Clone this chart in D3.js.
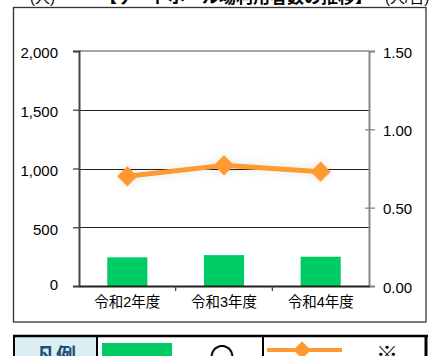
<!DOCTYPE html>
<html><head><meta charset="utf-8">
<script src="https://cdn.jsdelivr.net/npm/d3@7"></script>
<style>
html,body{margin:0;padding:0;background:#fff;overflow:hidden}
svg{display:block}
text{font-family:"Liberation Sans",Arial,"Noto Sans CJK JP",sans-serif}
</style></head>
<body>
<svg id="c" width="441" height="356"></svg>
<script>
const categories = ["令和2年度", "令和3年度", "令和4年度"];
const users = [244, 263, 249];
const ratio = [0.70, 0.77, 0.73];
const leftTicks = [0, 500, 1000, 1500, 2000];
const rightTicks = [0, 0.5, 1.0, 1.5];
const titleLeft = "(人)";
const titleMid = "【ゲートボール場利用者数の推移】";
const titleRight = "(人/日)";
const legendLabel = "凡例";
const legendMark1 = "〇";
const legendMark2 = "※";

const svg = d3.select("#c");
const L = 79, R = 369, T = 51, B = 286;

// clipped title row
svg.append("text").attr("x", 30).attr("y", 3).attr("font-size", 15).attr("fill", "#000").text(titleLeft);
svg.append("text").attr("x", 236).attr("y", 3).attr("text-anchor", "middle").attr("font-size", 17).attr("font-weight", "bold")
  .attr("font-family", "Noto Sans CJK JP").attr("fill", "#000").text(titleMid);
svg.append("text").attr("x", 385).attr("y", 3).attr("font-size", 15).attr("fill", "#000").text(titleRight);

// chart border
svg.append("rect").attr("x", 13.5).attr("y", 7.5).attr("width", 412.5).attr("height", 314.5)
  .attr("fill", "#fff").attr("stroke", "#333").attr("stroke-width", 1.3);

const x = d3.scaleBand().domain(categories).range([L, R]).paddingInner(0.585).paddingOuter(0.2925);
const yL = d3.scaleLinear().domain([0, 2000]).range([B, T]);
const yR = d3.scaleLinear().domain([0, 1.5]).range([B, T]);

// gridlines
svg.append("g").selectAll("line").data(leftTicks.filter(d => d > 0 && d < 2000)).join("line")
  .attr("x1", L).attr("x2", R).attr("y1", d => Math.round(yL(d)) + 0.5).attr("y2", d => Math.round(yL(d)) + 0.5)
  .attr("stroke", "#222").attr("stroke-width", 1);
// top border of plot
svg.append("line").attr("x1", L).attr("x2", R).attr("y1", yL(2000)).attr("y2", yL(2000))
  .attr("stroke", "#888").attr("stroke-width", 1.5);

// bars
svg.append("g").selectAll("rect").data(categories).join("rect")
  .attr("x", d => x(d)).attr("width", x.bandwidth())
  .attr("y", (d, i) => yL(users[i])).attr("height", (d, i) => B - yL(users[i]))
  .attr("fill", "#00CC66");

// left axis
const gL = svg.append("g").attr("transform", `translate(${L},0)`)
  .call(d3.axisLeft(yL).tickValues(leftTicks).tickFormat(d3.format(",")).tickSize(6).tickPadding(15));
gL.select(".domain").attr("stroke", "#444").attr("stroke-width", 2);
gL.selectAll(".tick line").attr("stroke", "#444").attr("stroke-width", 1.3);
gL.selectAll(".tick text").attr("font-size", 15).attr("fill", "#000").attr("dy", d => d === 0 ? "0.2em" : "0.45em");

// right axis
const gR = svg.append("g").attr("transform", `translate(${R},0)`)
  .call(d3.axisRight(yR).tickValues(rightTicks).tickFormat(d3.format(".2f")).tickSize(6).tickPadding(8));
gR.select(".domain").attr("stroke", "#888").attr("stroke-width", 2);
gR.selectAll(".tick line").attr("stroke", "#888").attr("stroke-width", 1.3)
  .attr("x1", d => (d > 0 && d < 1.5) ? -4 : 0);
gR.selectAll(".tick text").attr("font-size", 15).attr("fill", "#000").attr("dy", "0.4em");

// bottom axis
const gB = svg.append("g").attr("transform", `translate(0,${B})`)
  .call(d3.axisBottom(x).tickSize(0).tickPadding(11));
gB.select(".domain").attr("stroke", "#222").attr("stroke-width", 2);
gB.selectAll(".tick text").attr("font-size", 14.5).attr("fill", "#000").attr("font-family", "Noto Sans CJK JP");
// category boundary ticks
svg.append("g").selectAll("line").data(categories.slice(1)).join("line")
  .attr("x1", d => x(d) - x.step() * x.paddingInner() / 2).attr("x2", d => x(d) - x.step() * x.paddingInner() / 2)
  .attr("y1", B).attr("y2", B + 5).attr("stroke", "#444").attr("stroke-width", 1.3);

// line
const cx = d => x(d) + x.bandwidth() / 2;
const defs = svg.append("defs");
const f = defs.append("filter").attr("id", "glow").attr("x", "-20%").attr("y", "-200%").attr("width", "140%").attr("height", "500%");
f.append("feGaussianBlur").attr("in", "SourceAlpha").attr("stdDeviation", 5).attr("result", "b");
f.append("feComponentTransfer").attr("in", "b").attr("result", "c")
  .append("feFuncA").attr("type", "linear").attr("slope", 0.12);
const m = f.append("feMerge");
m.append("feMergeNode").attr("in", "c");
m.append("feMergeNode").attr("in", "SourceGraphic");

const lg = svg.append("g").attr("filter", "url(#glow)");
lg.append("path").datum(categories)
  .attr("d", d3.line().x(d => cx(d)).y((d, i) => yR(ratio[i])))
  .attr("fill", "none").attr("stroke", "#FF9933").attr("stroke-width", 5).attr("stroke-linejoin", "round");
lg.selectAll("path.mk").data(categories).join("path").attr("class", "mk")
  .attr("transform", (d, i) => `translate(${cx(d)},${yR(ratio[i])})`)
  .attr("d", d3.symbol(d3.symbolDiamond2, 260))
  .attr("fill", "#FF9933");

// legend table
const lt = 336;
svg.append("rect").attr("x", 15).attr("y", lt + 1).attr("width", 81).attr("height", 30).attr("fill", "#DAEEF3");
svg.append("line").attr("x1", 13).attr("x2", 428).attr("y1", lt).attr("y2", lt).attr("stroke", "#000").attr("stroke-width", 2.5);
[[14, 2], [97, 2], [263, 2], [426, 3]].forEach(([xx, w]) => {
  svg.append("line").attr("x1", xx).attr("x2", xx).attr("y1", lt - 1).attr("y2", 360).attr("stroke", "#000").attr("stroke-width", w);
});
svg.append("text").attr("x", 56).attr("y", 363).attr("text-anchor", "middle").attr("font-size", 20).attr("font-weight", "bold")
  .attr("font-family", "Noto Sans CJK JP").attr("fill", "#1F4E79").text(legendLabel);
svg.append("rect").attr("x", 102).attr("y", 343).attr("width", 70).attr("height", 20).attr("fill", "#00CC66");
svg.append("text").attr("x", 222).attr("y", 366).attr("text-anchor", "middle").attr("font-size", 25)
  .attr("font-family", "Noto Sans CJK JP").attr("fill", "#000").text(legendMark1);
svg.append("line").attr("x1", 267).attr("x2", 342).attr("y1", 350).attr("y2", 350).attr("stroke", "#FF9933").attr("stroke-width", 4);
svg.append("path").attr("transform", "translate(302,350)").attr("d", d3.symbol(d3.symbolDiamond2, 200)).attr("fill", "#FF9933");
svg.append("text").attr("x", 387).attr("y", 362).attr("text-anchor", "middle").attr("font-size", 22)
  .attr("font-family", "Noto Sans CJK JP").attr("fill", "#000").text(legendMark2);
</script>
</body></html>
